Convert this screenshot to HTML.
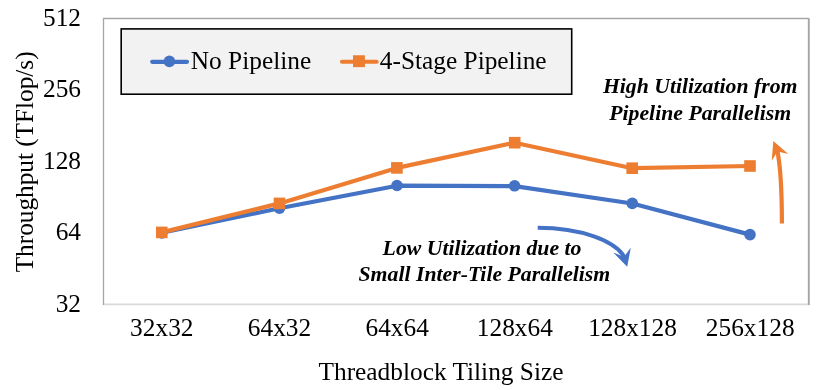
<!DOCTYPE html>
<html>
<head>
<meta charset="utf-8">
<style>
html,body{margin:0;padding:0;background:#fff;}
body{width:830px;height:390px;overflow:hidden;}
svg{display:block;will-change:transform;}
text{font-family:"Liberation Serif",serif;fill:#000;}
.t{font-size:25.35px;}
.a{font-size:21.75px;font-weight:bold;font-style:italic;}
</style>
</head>
<body>
<svg width="830" height="390" viewBox="0 0 830 390">
<rect x="0" y="0" width="830" height="390" fill="#fff"/>
<!-- plot border -->
<line x1="103" y1="304.3" x2="809.5" y2="304.3" stroke="#d9d9d9" stroke-width="1.7"/>
<path d="M103.5 305 V18.5 H808.5 V305" fill="none" stroke="#a6a6a6" stroke-width="1.3" stroke-linejoin="round"/>
<line x1="809.2" y1="18.3" x2="809.2" y2="305" stroke="#a6a6a6" stroke-width="1"/>
<!-- legend -->
<rect x="121.2" y="28.9" width="450.5" height="65.3" fill="#f2f2f2" stroke="#000" stroke-width="1.6"/>
<line x1="152.2" y1="61.85" x2="187" y2="61.85" stroke="#4472C4" stroke-width="4.2" stroke-linecap="round"/>
<circle cx="169.4" cy="61.4" r="5.8" fill="#4472C4"/>
<text class="t" x="190.8" y="68.5">No Pipeline</text>
<line x1="342" y1="61.75" x2="376.6" y2="61.75" stroke="#ED7D31" stroke-width="4.2" stroke-linecap="round"/>
<rect x="353" y="55.25" width="11.9" height="11.9" fill="#ED7D31"/>
<text class="t" x="379.8" y="68.5">4-Stage Pipeline</text>
<!-- y tick labels -->
<g class="t" text-anchor="end">
<text x="81" y="25.5">512</text>
<text x="81" y="97.0">256</text>
<text x="81" y="168.5">128</text>
<text x="81" y="240.0">64</text>
<text x="81" y="311.5">32</text>
</g>
<!-- x tick labels -->
<g class="t" text-anchor="middle">
<text x="161.8" y="336">32x32</text>
<text x="279.5" y="336">64x32</text>
<text x="397.2" y="336">64x64</text>
<text x="514.8" y="336">128x64</text>
<text x="632.5" y="336">128x128</text>
<text x="750.2" y="336">256x128</text>
</g>
<text class="t" text-anchor="middle" x="441" y="379.8">Threadblock Tiling Size</text>
<text class="t" style="font-size:25.25px" text-anchor="middle" transform="translate(32.6 161.85) rotate(-90)">Throughput (TFlop/s)</text>
<!-- series -->
<polyline points="161.8,232.8 279.5,208.2 397,185.7 514.6,186.2 632.3,203.5 750,234.6" fill="none" stroke="#4472C4" stroke-width="4.2" stroke-linejoin="round" stroke-linecap="round"/>
<g fill="#4472C4">
<circle cx="161.8" cy="232.9" r="5.8"/><circle cx="279.5" cy="208.2" r="5.8"/><circle cx="397" cy="185.5" r="5.8"/><circle cx="514.6" cy="185.8" r="5.8"/><circle cx="632.3" cy="203.4" r="5.8"/><circle cx="750" cy="234.6" r="5.8"/>
</g>
<polyline points="161.8,232.4 279.5,203.4 397,167.9 514.7,142.7 632.2,168.2 750,166" fill="none" stroke="#ED7D31" stroke-width="4.2" stroke-linejoin="round" stroke-linecap="round"/>
<g fill="#ED7D31">
<rect x="156.0" y="226.6" width="11.6" height="11.6"/><rect x="273.7" y="197.6" width="11.6" height="11.6"/><rect x="391.1" y="162.1" width="11.6" height="11.6"/><rect x="508.9" y="136.9" width="11.6" height="11.6"/><rect x="626.4" y="162.4" width="11.6" height="11.6"/><rect x="744.2" y="160.2" width="11.6" height="11.6"/>
</g>
<!-- annotations -->
<g class="a" text-anchor="middle">
<text x="700.2" y="93.1">High Utilization from</text>
<text x="700.2" y="119.7">Pipeline Parallelism</text>
<text x="482" y="254.8">Low Utilization due to</text>
<text x="484.4" y="281.2">Small Inter-Tile Parallelism</text>
</g>
<!-- orange arrow -->
<path d="M781.9 223.6 A8.6 82.7 0 0 0 777.0 149" fill="none" stroke="#ED7D31" stroke-width="4.2"/>
<path d="M773.3 140.9 L788.3 153.9 L777.5 151.5 L771.7 160.8 Z" fill="#ED7D31"/>
<!-- blue arrow -->
<path d="M537.7 227.8 A89.5 39 0 0 1 625.2 258.6" fill="none" stroke="#4472C4" stroke-width="4"/>
<path d="M627.2 266.8 L613.3 252.6 L624.1 256.8 L630.8 247.5 Z" fill="#4472C4"/>
</svg>
</body>
</html>
